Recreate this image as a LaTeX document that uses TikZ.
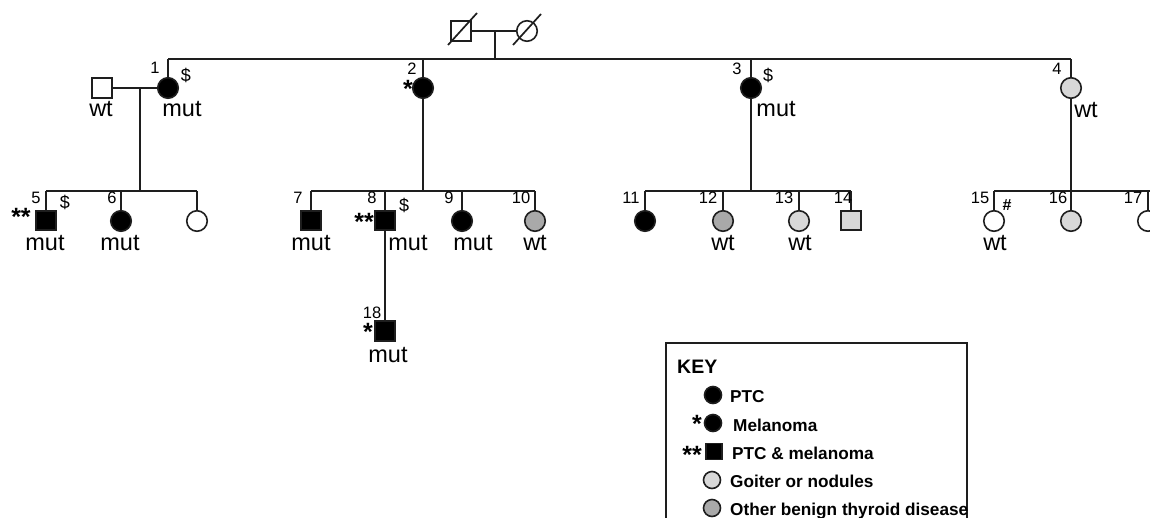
\documentclass[tikz,border=0pt]{standalone}
\usepackage{fontspec}
\setmainfont{Liberation Sans}
\usetikzlibrary{calc}
\definecolor{lightg}{HTML}{D8D8D8}
\definecolor{darkg}{HTML}{A9A9A9}
\definecolor{inkc}{HTML}{1E1E1E}
\tikzset{
  ln/.style={line width=1.7pt, draw=inkc},
  person/.style={draw=inkc, line width=1.6pt, inner sep=0pt},
  female/.style={person, circle, minimum size=20.5pt},
  male/.style={person, rectangle, minimum size=19.5pt},
  aff/.style={fill=black},
  goit/.style={fill=lightg},
  oth/.style={fill=darkg},
  num/.style={font=\fontsize{16.5}{16.5}\selectfont, inner sep=0pt, anchor=base},
  gen/.style={font=\fontsize{23.5}{23.5}\selectfont, inner sep=0pt},
  ast/.style={font=\bfseries\fontsize{25}{25}\selectfont, inner sep=0pt, anchor=base},
  dol/.style={font=\fontsize{18}{18}\selectfont, inner sep=0pt},
  keytxt/.style={font=\bfseries\fontsize{17.2}{17.2}\selectfont, anchor=base west, inner sep=0pt},
  keyf/.style={person, circle, minimum size=17pt},
  keym/.style={person, rectangle, minimum size=16pt},
}
\begin{document}
\begin{tikzpicture}[x=1pt,y=-1pt]
\useasboundingbox (0,0) rectangle (1150,517);
\clip (0,0) rectangle (1150,517);
\fill[white] (0,0) rectangle (1150,517);

% ---------- generation I ----------
\node[male] (gf) at (461,31) {};
\node[female] (gm) at (527,31) {};
\draw[ln] (gf.east) -- (gm.west);
\draw[ln] ($(gf.center)+(-13,14)$) -- ($(gf.center)+(16,-18)$);
\draw[ln] ($(gm.center)+(-14,14)$) -- ($(gm.center)+(14,-17)$);
\coordinate (m0) at (495,31);
\coordinate (s0) at (495,59);
\draw[ln] (m0) -- (s0);
\coordinate (t1) at (168,59);
\coordinate (t2) at (423,59);
\coordinate (t3) at (751,59);
\coordinate (t4) at (1071,59);
\draw[ln] (t1) -- (t4);

% ---------- generation II ----------
\node[female,aff] (p1) at (168,88) {};
\node[male] (sp1) at (102,88) {};
\node[female,aff] (p2) at (423,88) {};
\node[female,aff] (p3) at (751,88) {};
\node[female,goit] (p4) at (1071,88) {};
\draw[ln] (t1) -- (p1.north);
\draw[ln] (t2) -- (p2.north);
\draw[ln] (t3) -- (p3.north);
\draw[ln] (t4) -- (p4.north);
\draw[ln] (sp1.east) -- (p1.west);

\node[num] (n1) at (155,73) {1};
\node[num] (n2) at (412,74) {2};
\node[num] (n3) at (737,74) {3};
\node[num] (n4) at (1057,74) {4};
\node[dol] (d1) at (186,75) {\$};
\node[dol] (d3) at (768,75) {\$};
\node[ast] (a2) at (408,97) {*};
\node[gen] (g1) at (182,109) {mut};
\node[gen] (gs1) at (101,109) {wt};
\node[gen] (g3) at (776,109) {mut};
\node[gen] (g4) at (1086,110) {wt};

% ---------- sibship lines ----------
\coordinate (c1a) at (140,88);
\coordinate (c1b) at (140,191);
\draw[ln] (c1a) -- (c1b);
\coordinate (c2) at (423,191);
\draw[ln] (p2.south) -- (c2);
\coordinate (c3) at (751,191);
\draw[ln] (p3.south) -- (c3);
\coordinate (c4) at (1071,191);
\draw[ln] (p4.south) -- (c4);

\coordinate (l1a) at (46,191);   \coordinate (l1b) at (197,191);
\coordinate (l2a) at (311,191);  \coordinate (l2b) at (535,191);
\coordinate (l3a) at (645,191);  \coordinate (l3b) at (851,191);
\coordinate (l4a) at (994,191);  \coordinate (l4b) at (1150,191);
\draw[ln] (l1a) -- (l1b);
\draw[ln] (l2a) -- (l2b);
\draw[ln] (l3a) -- (l3b);
\draw[ln] (l4a) -- (l4b);

% ---------- generation III ----------
\node[male,aff] (p5) at (46,220.5) {};
\node[female,aff] (p6) at (121,221) {};
\node[female] (p6b) at (197,221) {};
\node[male,aff] (p7) at (311,220.5) {};
\node[male,aff] (p8) at (385,220.5) {};
\node[female,aff] (p9) at (462,221) {};
\node[female,oth] (p10) at (535,221) {};
\node[female,aff] (p11) at (645,221) {};
\node[female,oth] (p12) at (723,221) {};
\node[female,goit] (p13) at (799,221) {};
\node[male,goit] (p14) at (851,220.5) {};
\node[female] (p15) at (994,221) {};
\node[female,goit] (p16) at (1071,221) {};
\node[female] (p17) at (1148,221) {};

\draw[ln] (l1a) -- (p5.north);
\draw[ln] (p6|-l1a) -- (p6.north);
\draw[ln] (l1b) -- (p6b.north);
\draw[ln] (l2a) -- (p7.north);
\draw[ln] (p8|-l2a) -- (p8.north);
\draw[ln] (p9|-l2a) -- (p9.north);
\draw[ln] (l2b) -- (p10.north);
\draw[ln] (l3a) -- (p11.north);
\draw[ln] (p12|-l3a) -- (p12.north);
\draw[ln] (p13|-l3a) -- (p13.north);
\draw[ln] (l3b) -- (p14.north);
\draw[ln] (l4a) -- (p15.north);
\draw[ln] (c4) -- (p16.north);
\draw[ln] (p17|-l4a) -- (p17.north);

\node[num] (n5) at (36,203) {5};
\node[num] (n6) at (112,203) {6};
\node[num] (n7) at (298,203) {7};
\node[num] (n8) at (372,203) {8};
\node[num] (n9) at (449,203) {9};
\node[num] (n10) at (521,203) {10};
\node[num] (n11) at (631,203) {11};
\node[num] (n12) at (708,203) {12};
\node[num] (n13) at (784,203) {13};
\node[num] (n14) at (843,203) {14};
\node[num] (n15) at (980,203) {15};
\node[num] (n16) at (1058,203) {16};
\node[num] (n17) at (1133,203) {17};

\node[ast] (a5) at (21,225) {**};
\node[ast] (a8) at (364,230) {**};
\node[dol] (d5) at (65,202) {\$};
\node[dol] (d8) at (404,205) {\$};
\node[dol, font=\bfseries\fontsize{16}{16}\selectfont] (h15) at (1007,205) {\#};

\node[gen] (g5) at (45,243) {mut};
\node[gen] (g6) at (120,243) {mut};
\node[gen] (g7) at (311,243) {mut};
\node[gen] (g8) at (408,243) {mut};
\node[gen] (g9) at (473,243) {mut};
\node[gen] (g10) at (535,243) {wt};
\node[gen] (g12) at (723,243) {wt};
\node[gen] (g13) at (800,243) {wt};
\node[gen] (g15) at (995,243) {wt};

% ---------- generation IV ----------
\node[male,aff] (p18) at (385,331) {};
\draw[ln] (p8.south) -- (p18.north);
\node[num] (n18) at (372,318) {18};
\node[ast] (a18) at (368,340) {*};
\node[gen] (g18) at (388,355) {mut};

% ---------- key ----------
\draw[line width=1.4pt, draw=inkc] (666,530) -- (666,343) -- (967,343) -- (967,530);
\node[font=\bfseries\fontsize{19.5}{19.5}\selectfont, anchor=base west, inner sep=0pt] (keyt) at (677,373) {KEY};
\node[keyf,aff] (k1) at (713,395) {};
\node[keytxt] (k1t) at (730,402) {PTC};
\node[keyf,aff] (k2) at (713,423) {};
\node[ast] (k2a) at (697,432) {*};
\node[keytxt] (k2t) at (733,431) {Melanoma};
\node[keym,aff] (k3) at (714,451.5) {};
\node[ast] (k3a) at (692,463) {**};
\node[keytxt] (k3t) at (732,459) {PTC \& melanoma};
\node[keyf,goit] (k4) at (712,480) {};
\node[keytxt] (k4t) at (730,487) {Goiter or nodules};
\node[keyf,oth] (k5) at (712,508) {};
\node[keytxt] (k5t) at (730,515) {Other benign thyroid disease};
\end{tikzpicture}
\end{document}
